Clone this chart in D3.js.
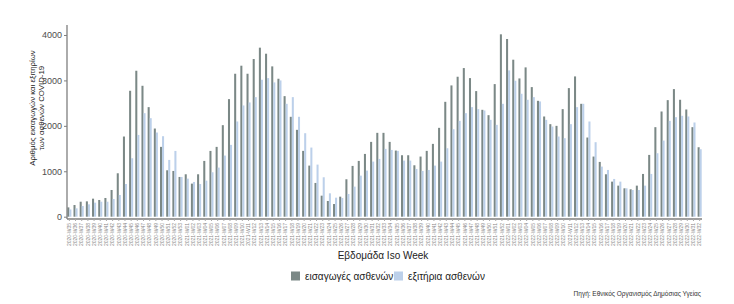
<!DOCTYPE html>
<html><head><meta charset="utf-8">
<script src="https://cdn.jsdelivr.net/npm/d3@7"></script>
<style>body{margin:0;background:#fff;font-family:"Liberation Sans",Arial,sans-serif;}</style>
</head><body><svg id="c" width="734" height="304"></svg>
<script>
const weeks = [
"2020-W35","2020-W36","2020-W37","2020-W38","2020-W39","2020-W40","2020-W41","2020-W42","2020-W43","2020-W44",
"2020-W45","2020-W46","2020-W47","2020-W48","2020-W49","2020-W50","2020-W51","2020-W52","2020-W53",
"2021-W01","2021-W02","2021-W03","2021-W04","2021-W05","2021-W06","2021-W07","2021-W08","2021-W09","2021-W10",
"2021-W11","2021-W12","2021-W13","2021-W14","2021-W15","2021-W16","2021-W17","2021-W18","2021-W19","2021-W20",
"2021-W21","2021-W22","2021-W23","2021-W24","2021-W25","2021-W26","2021-W27","2021-W28","2021-W29","2021-W30",
"2021-W31","2021-W32","2021-W33","2021-W34","2021-W35","2021-W36","2021-W37","2021-W38","2021-W39","2021-W40",
"2021-W41","2021-W42","2021-W43","2021-W44","2021-W45","2021-W46","2021-W47","2021-W48","2021-W49","2021-W50",
"2021-W51","2021-W52",
"2022-W01","2022-W02","2022-W03","2022-W04","2022-W05","2022-W06","2022-W07","2022-W08","2022-W09","2022-W10",
"2022-W11","2022-W12","2022-W13","2022-W14","2022-W15","2022-W16","2022-W17","2022-W18","2022-W19","2022-W20",
"2022-W21","2022-W22","2022-W23","2022-W24","2022-W25","2022-W26","2022-W27","2022-W28","2022-W29","2022-W30",
"2022-W31","2022-W32"];
const admissions = [205,257,330,338,397,368,412,588,956,1765,2772,3213,2882,2412,1941,1537,1022,1007,875,934,
728,934,1228,1448,1537,2015,2588,3147,3324,3147,3471,3721,3588,3309,3037,2654,2199,1912,1449,1125,
743,463,346,279,441,824,1118,1228,1382,1647,1846,1846,1647,1456,1353,1353,1132,1324,1449,1603,
1956,2529,2890,3081,3272,3051,2765,2353,2235,2919,4015,3912,3456,3044,3287,2853,2551,2206,2037,2000,
2368,2831,3088,2485,1743,1324,1206,934,772,684,625,603,684,941,1360,1971,2316,2566,2809,2574,
2360,1971,1529];
const discharges = [160,184,235,272,309,330,330,390,478,720,1287,1800,2279,2169,1853,1772,1250,1448,875,838,
765,720,794,978,1081,1346,1581,2096,2449,2515,2632,3015,3051,2956,3000,2485,2632,2199,1838,1522,
1147,868,515,419,412,500,662,904,1015,1213,1272,1493,1470,1449,1235,1235,1051,1007,1029,1125,
1213,1507,1926,2110,2279,2412,2368,2338,2132,2022,2485,3221,2993,2706,2574,2632,2537,2132,1985,1765,
1728,2037,2412,2485,2096,1640,1103,1029,831,772,625,588,588,684,941,1397,1676,2110,2191,2221,
2206,2074,1485];
const seriesNames = ["εισαγωγές ασθενών","εξιτήρια ασθενών"];
const seriesColors = ["#7b8886","#bcd0ea"];
const yTicks = [0,1000,2000,3000,4000];

const svg = d3.select("#c");
const x = d3.scaleBand().domain(weeks).range([67, 702]).paddingInner(0.34).paddingOuter(0.05);
const x1 = d3.scaleBand().domain([0,1]).range([0, x.bandwidth()]).padding(0);
const y = d3.scaleLinear().domain([0, 4220]).range([216.7, 25]);

const data = weeks.map((w,i)=>({w, v:[admissions[i], discharges[i]]}));
const g = svg.append("g");
data.forEach(d=>{
  d.v.forEach((val,k)=>{
    g.append("rect").attr("x", x(d.w)+x1(k)).attr("width", x1.bandwidth())
     .attr("y", y(val)).attr("height", y(0)-y(val)).attr("fill", seriesColors[k]);
  });
});

// y axis
const ya = svg.append("g").attr("transform","translate(67,0)")
  .call(d3.axisLeft(y).tickValues(yTicks).tickFormat(d3.format("d")).tickSize(3).tickPadding(2));
ya.select(".domain").attr("d","M0,25V219").attr("stroke","#7f7f7f").attr("stroke-width",1.3);
ya.selectAll(".tick line").attr("stroke","#7f7f7f");
ya.selectAll(".tick text").attr("fill","#4d4d4d").style("font-size","9px").style("font-family","Liberation Sans, Arial, sans-serif");

// x axis
const xa = svg.append("g").attr("transform","translate(0,219)")
  .call(d3.axisBottom(x).tickSize(2).tickPadding(2));
xa.select(".domain").attr("d","M67,0H702").attr("stroke","#7f7f7f").attr("stroke-width",1.3);
xa.selectAll(".tick line").attr("stroke","#aaa");
xa.selectAll(".tick text").attr("fill","#888").style("font-size","5px")
  .style("font-family","Liberation Sans, Arial, sans-serif")
  .attr("transform","rotate(-90)").attr("text-anchor","end").attr("dy","0.35em").attr("x",-4).attr("y",0);

// axis titles
svg.append("text").attr("x",383).attr("y",259).attr("text-anchor","middle")
  .style("font-size","10px").attr("fill","#222").text("Εβδομάδα Iso Week");
const yt = svg.append("text").attr("transform","translate(35,108) rotate(-90)").attr("text-anchor","middle")
  .style("font-size","7.8px").attr("fill","#222");
yt.append("tspan").attr("x",0).attr("dy",0).text("Αριθμός εισαγωγών και εξιτηρίων");
yt.append("tspan").attr("x",0).attr("dy",8.5).text("των ασθενών COVID-19");

// legend
const legX = [291, 394];
seriesNames.forEach((n,k)=>{
  svg.append("rect").attr("x",legX[k]).attr("y",271.5).attr("width",9).attr("height",9).attr("fill",seriesColors[k]);
  svg.append("text").attr("x",legX[k]+14).attr("y",279.5).style("font-size","10px").attr("fill","#222").text(n);
});

// source
svg.append("text").attr("x",701).attr("y",295.5).attr("text-anchor","end")
  .style("font-size","6.5px").attr("fill","#333").text("Πηγή: Εθνικός Οργανισμός Δημόσιας Υγείας");
</script></body></html>
